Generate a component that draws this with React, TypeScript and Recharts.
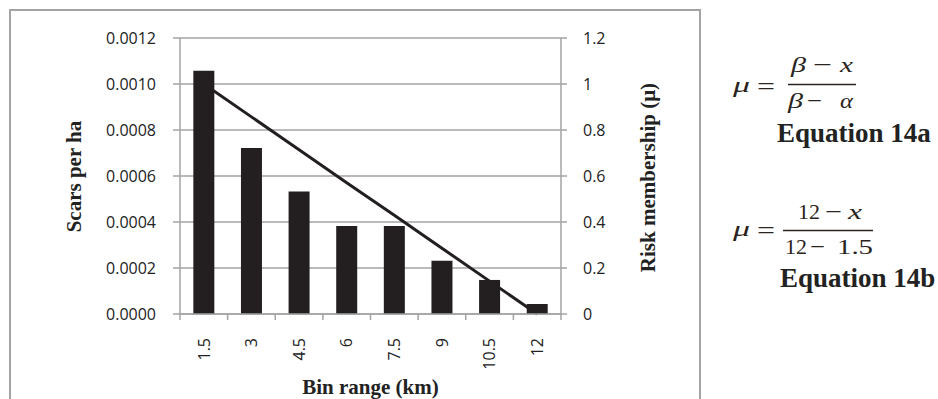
import React from 'react';
import { ComposedChart, Bar, Line, XAxis, YAxis, CartesianGrid } from 'recharts';

const bins = ['1.5', '3', '4.5', '6', '7.5', '9', '10.5', '12'];
const scarsPerHa = [0.001058, 0.000722, 0.000533, 0.000383, 0.000383, 0.000232, 0.000148, 0.0000435];
const riskMembership = [1, 0.857, 0.714, 0.571, 0.429, 0.286, 0.143, 0];
const leftTicks = [0, 0.0002, 0.0004, 0.0006, 0.0008, 0.001, 0.0012];
const rightTicks = [0, 0.2, 0.4, 0.6, 0.8, 1, 1.2];

const data = bins.map((b, i) => ({ bin: b, scars: scarsPerHa[i], mu: riskMembership[i] }));

const W = 938;
const H = 399;
const GRAY = '#a3a3a3';
const INK = '#231f20';
const PLOT_LEFT = 180;
const PLOT_RIGHT = 561;
const BAND = (PLOT_RIGHT - PLOT_LEFT) / bins.length;

const XTick = (props: any) => {
  const { x, y, payload } = props;
  const idx = bins.indexOf(String(payload.value));
  const ty = y + 24;
  return (
    <g>
      <line x1={x - BAND / 2} x2={x - BAND / 2} y1={y} y2={y + 6} stroke={GRAY} strokeWidth={1.5} />
      {idx === bins.length - 1 && (
        <line x1={x + BAND / 2} x2={x + BAND / 2} y1={y} y2={y + 6} stroke={GRAY} strokeWidth={1.5} />
      )}
      <text
        x={x}
        y={ty}
        transform={`rotate(-90 ${x} ${ty})`}
        textAnchor="end"
        dy="0.36em"
        fontFamily="'Open Sans', sans-serif"
        fontSize={16}
        fill="#222"
      >
        {payload.value}
      </text>
    </g>
  );
};

const serifBold = { fontFamily: "'Liberation Serif', 'Times New Roman', serif", fontWeight: 700, fill: '#222' } as const;
const math = { fontFamily: "'Liberation Serif', 'Times New Roman', serif", fill: '#2a2420', fontSize: 22 } as const;

type GlyphProps = { x0: number; x1: number; y: number; t: string; italic?: boolean; size?: number };
const G = ({ x0, x1, y, t, italic, size }: GlyphProps) => (
  <text
    x={x0}
    y={y}
    textLength={x1 - x0}
    lengthAdjust="spacingAndGlyphs"
    fontStyle={italic ? 'italic' : 'normal'}
    {...math}
    fontSize={size ?? 22}
  >
    {t}
  </text>
);

export default function App() {
  return (
    <div style={{ position: 'absolute', left: 0, top: 0, width: W, height: H, overflow: 'hidden', background: '#fff' }}>
      <div
        style={{
          position: 'absolute',
          left: 9,
          top: 9,
          width: 692,
          height: 430,
          border: `2px solid ${GRAY}`,
          boxSizing: 'border-box',
        }}
      />
      <div style={{ position: 'absolute', left: 0, top: 0 }}>
        <ComposedChart
          width={W}
          height={H}
          data={data}
          margin={{ top: 38, right: 287, left: 0, bottom: 0 }}
          barCategoryGap="28%"
        >
          <CartesianGrid horizontal vertical={false} stroke={GRAY} strokeWidth={1.5} yAxisId="left" />
          <XAxis
            dataKey="bin"
            interval={0}
            height={85}
            tickLine={false}
            tickSize={0}
            tickMargin={0}
            axisLine={{ stroke: GRAY, strokeWidth: 1.5 }}
            tick={<XTick />}
          />
          <YAxis
            yAxisId="left"
            orientation="left"
            width={180}
            domain={[0, 0.0012]}
            ticks={leftTicks}
            interval={0}
            tickFormatter={(v: number) => v.toFixed(4)}
            tickSize={7}
            tickMargin={17}
            tickLine={{ stroke: GRAY, strokeWidth: 1.5 }}
            axisLine={{ stroke: GRAY, strokeWidth: 1.5 }}
            tick={{ fill: '#222', fontSize: 16, fontFamily: "'Open Sans', sans-serif" }}
          />
          <YAxis
            yAxisId="right"
            orientation="right"
            width={90}
            domain={[0, 1.2]}
            ticks={rightTicks}
            interval={0}
            tickFormatter={(v: number) => String(v)}
            tickSize={6}
            tickMargin={16}
            tickLine={{ stroke: GRAY, strokeWidth: 1.5 }}
            axisLine={{ stroke: GRAY, strokeWidth: 1.5 }}
            tick={{ fill: '#222', fontSize: 16, fontFamily: "'Open Sans', sans-serif", textAnchor: 'start' }}
          />
          <Bar yAxisId="left" dataKey="scars" fill={INK} isAnimationActive={false} />
          <Line
            yAxisId="right"
            dataKey="mu"
            type="linear"
            stroke={INK}
            strokeWidth={3}
            dot={false}
            activeDot={false}
            isAnimationActive={false}
          />
        </ComposedChart>
      </div>
      <svg
        width={W}
        height={H}
        style={{ position: 'absolute', left: 0, top: 0, pointerEvents: 'none' }}
      >
        <text x={370.5} y={394} textAnchor="middle" fontSize={21} {...serifBold}>
          Bin range (km)
        </text>
        <text transform="translate(80.5 176.5) rotate(-90)" textAnchor="middle" fontSize={21} {...serifBold}>
          Scars per ha
        </text>
        <text transform="translate(655 177.5) rotate(-90)" textAnchor="middle" fontSize={21} {...serifBold}>
          Risk membership (μ)
        </text>

        {/* Equation 14a */}
        <G x0={733} x1={750} y={92} t="μ" italic />
        <G x0={757} x1={775} y={94} t="=" size={24} />
        <G x0={791} x1={806} y={72} t="β" italic />
        <G x0={813} x1={832} y={72} t="−" />
        <G x0={840} x1={853} y={72} t="x" italic />
        <line x1={788} x2={856} y1={84.5} y2={84.5} stroke="#2a2420" strokeWidth={1.4} />
        <G x0={788} x1={803} y={108} t="β" italic />
        <G x0={807} x1={822} y={108} t="−" />
        <G x0={840} x1={853} y={108} t="α" italic />
        <text x={777} y={142} fontSize={27} {...serifBold}>
          Equation 14a
        </text>

        {/* Equation 14b */}
        <G x0={733} x1={750} y={236} t="μ" italic />
        <G x0={757} x1={775} y={238} t="=" size={24} />
        <G x0={798} x1={820} y={219} t="12" />
        <G x0={825} x1={842} y={219} t="−" />
        <G x0={848} x1={862} y={219} t="x" italic />
        <line x1={783} x2={873} y1={230.5} y2={230.5} stroke="#2a2420" strokeWidth={1.4} />
        <G x0={785} x1={807} y={254} t="12" />
        <G x0={810} x1={825} y={254} t="−" />
        <G x0={837} x1={873} y={254} t="1.5" />
        <text x={780} y={287} fontSize={27} {...serifBold}>
          Equation 14b
        </text>
      </svg>
    </div>
  );
}
